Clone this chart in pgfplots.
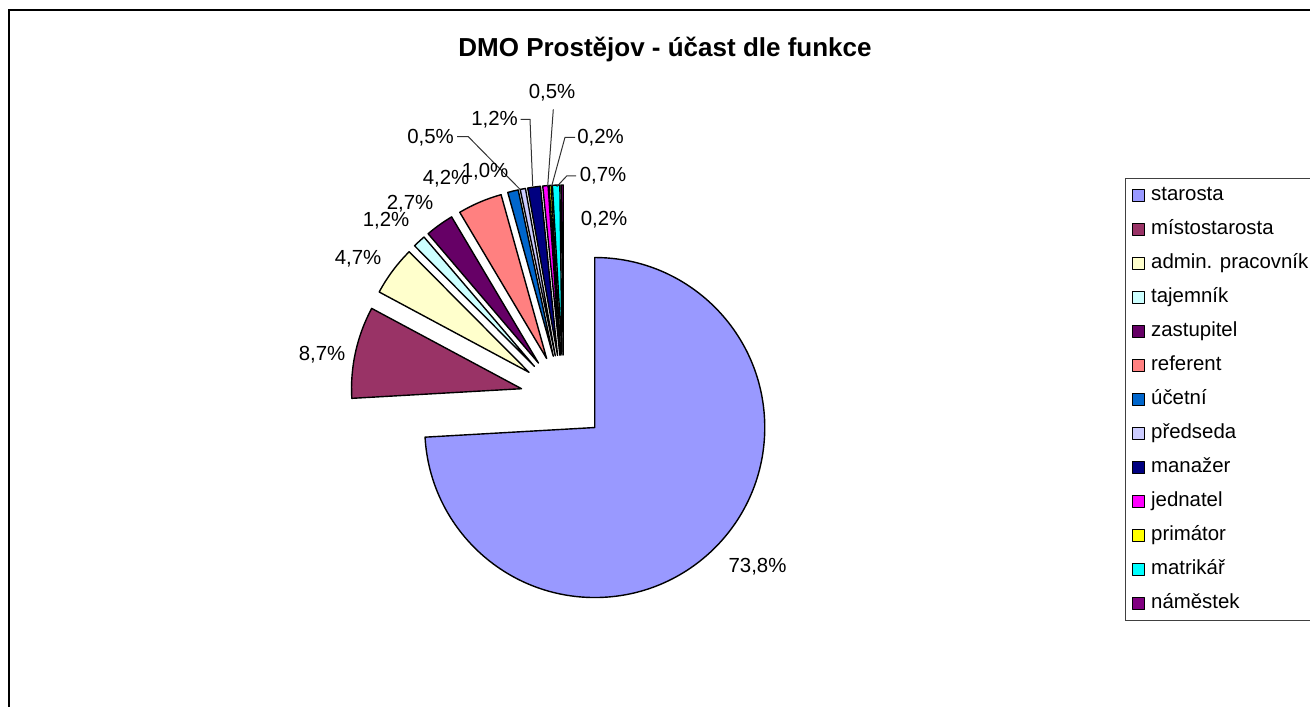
\documentclass[border=0pt]{standalone}
\usepackage{pgfplots}
\pgfplotsset{compat=1.18}
\usepackage{fontspec}
\setmainfont{Liberation Sans}

\definecolor{cStar}{HTML}{9999FF}
\definecolor{cMist}{HTML}{993366}
\definecolor{cAdmin}{HTML}{FFFFCC}
\definecolor{cTaj}{HTML}{CCFFFF}
\definecolor{cZast}{HTML}{660066}
\definecolor{cRef}{HTML}{FF8080}
\definecolor{cUcet}{HTML}{0066CC}
\definecolor{cPred}{HTML}{CCCCFF}
\definecolor{cMan}{HTML}{000080}
\definecolor{cJedn}{HTML}{FF00FF}
\definecolor{cPrim}{HTML}{FFFF00}
\definecolor{cMatr}{HTML}{00FFFF}
\definecolor{cNam}{HTML}{800080}

\newcommand\lblfont{\fontsize{10.2}{12}\selectfont}

% pie geometry in picture units (1 unit = 0.5pt)
\def\cx{563.5}\def\cy{308}\def\rr{170}\def\ex{43}
\def\total{99.6}
\def\cum{0}

% value, colour, legend text
\newcommand\pieslice[3]{%
  \pgfmathsetmacro\aA{90-360*(\cum/\total)}%
  \pgfmathsetmacro\aB{90-360*((\cum+#1)/\total)}%
  \pgfmathsetmacro\aM{(\aA+\aB)/2}%
  \pgfmathsetmacro\ox{\cx+\ex*cos(\aM)}%
  \pgfmathsetmacro\oy{\cy+\ex*sin(\aM)}%
  \pgfmathsetmacro\px{\ox+\rr*cos(\aA)}%
  \pgfmathsetmacro\py{\oy+\rr*sin(\aA)}%
  \edef\doslice{\noexpand\addplot[draw=black, line width=0.7pt, line join=round, fill=#2]
    coordinates {(\ox,\oy) (\px,\py)}
    arc[start angle=\aA, end angle=\aB, radius=85pt] -- cycle;}%
  \doslice
  \addlegendentry{#3}%
  \pgfmathsetmacro\newcum{\cum+#1}%
  \global\let\cum\newcum
}

\begin{document}
\begin{tikzpicture}
\begin{axis}[
  at={(0,0)}, anchor=south west,
  scale only axis, width=655pt, height=353pt,
  xmin=0, xmax=1310, ymin=0, ymax=706,
  hide axis, clip=false,
  legend image code/.code={\draw[#1, draw=black, line width=0.5pt] (0pt,-3pt) rectangle (6pt,3pt);},
  legend cell align=left,
  legend style={at={(0.8585,0.7480)}, anchor=north west, draw=black!75, line width=0.5pt,
    inner xsep=3.5pt, inner ysep=3.6pt, row sep=7pt,
    font=\lblfont,
    nodes={inner sep=0pt, text height=7.5pt, text depth=2.5pt},
    /tikz/every odd column/.append style={column sep=3pt}},
]
\pieslice{73.8}{cStar}{starosta}
\pieslice{8.7}{cMist}{místostarosta}
\pieslice{4.7}{cAdmin}{admin. pracovník}
\pieslice{1.2}{cTaj}{tajemník}
\pieslice{2.7}{cZast}{zastupitel}
\pieslice{4.2}{cRef}{referent}
\pieslice{1.0}{cUcet}{účetní}
\pieslice{0.5}{cPred}{předseda}
\pieslice{1.2}{cMan}{manažer}
\pieslice{0.5}{cJedn}{jednatel}
\pieslice{0.2}{cPrim}{primátor}
\pieslice{0.7}{cMatr}{matrikář}
\pieslice{0.2}{cNam}{náměstek}

% outer chart border (right and bottom edges lie outside the picture)
\draw[line width=1pt] (axis cs:9,-10) -- (axis cs:9,696) -- (axis cs:1330,696);

\node[anchor=base, font=\bfseries\fontsize{13}{15}\selectfont] at (axis cs:665,649.5) {DMO Prostějov - účast dle funkce};

% leader lines
\begin{scope}[draw=black!80, line width=0.5pt]
\draw (axis cs:457,569.3) -- (axis cs:468.3,569.3) -- (axis cs:520,516.7);
\draw (axis cs:520.7,586.7) -- (axis cs:530,586.7) -- (axis cs:532.7,520);
\draw (axis cs:553.3,596.7) -- (axis cs:547.7,520);
\draw (axis cs:575,568.7) -- (axis cs:565,568.7) -- (axis cs:551.7,520);
\draw (axis cs:576,530) -- (axis cs:566.7,530) -- (axis cs:556.7,519.3);
\end{scope}

\begin{scope}[every node/.style={anchor=base, font=\lblfont, inner sep=0pt}]
\node at (axis cs:757.5,133.7) {73,8\%};
\node at (axis cs:322,345.7) {8,7\%};
\node at (axis cs:358,441) {4,7\%};
\node at (axis cs:386,479) {1,2\%};
\node at (axis cs:410,496) {2,7\%};
\node at (axis cs:446,521) {4,2\%};
\node at (axis cs:485,528) {1,0\%};
\node at (axis cs:430.5,562.5) {0,5\%};
\node at (axis cs:494.5,580) {1,2\%};
\node at (axis cs:552,607.7) {0,5\%};
\node at (axis cs:600.5,562.5) {0,2\%};
\node at (axis cs:603,524.3) {0,7\%};
\node at (axis cs:604,480) {0,2\%};
\end{scope}
\end{axis}
\pgfresetboundingbox
\useasboundingbox (0,0) rectangle (655pt,353pt);
\end{tikzpicture}
\end{document}
